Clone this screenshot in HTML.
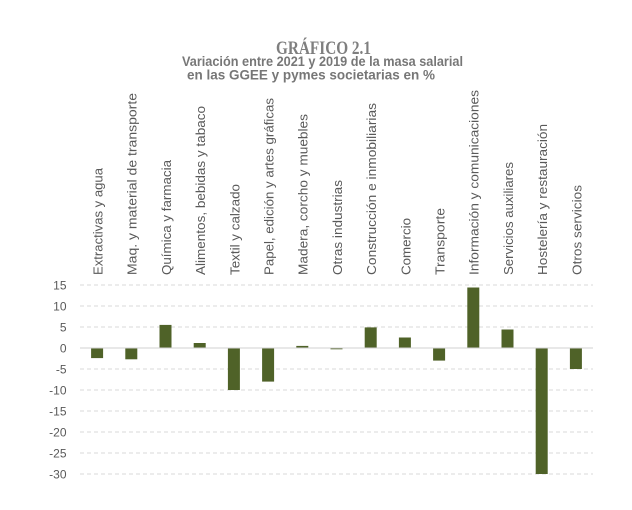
<!DOCTYPE html>
<html>
<head>
<meta charset="utf-8">
<style>
  html, body { margin: 0; padding: 0; background: #ffffff; }
  svg { display: block; }
</style>
</head>
<body>
<svg width="632" height="510" viewBox="0 0 632 510" xmlns="http://www.w3.org/2000/svg">
  <rect x="0" y="0" width="632" height="510" fill="#ffffff"/>

  <!-- Titles -->
  <text x="276" y="54" font-family="Liberation Serif, serif" font-weight="bold" font-size="18.5" fill="#7f7f7f" textLength="95" lengthAdjust="spacingAndGlyphs">GRÁFICO 2.1</text>
  <text x="182" y="66" font-family="Liberation Sans, sans-serif" font-weight="bold" font-size="13.5" fill="#777777" textLength="281" lengthAdjust="spacingAndGlyphs">Variación entre 2021 y 2019 de la masa salarial</text>
  <text x="187" y="79.3" font-family="Liberation Sans, sans-serif" font-weight="bold" font-size="13.5" fill="#777777" textLength="248" lengthAdjust="spacingAndGlyphs">en las GGEE  y pymes societarias en %</text>

  <!-- Gridlines -->
  <g stroke="#d9d9d9" stroke-width="1" stroke-dasharray="4 3">
    <line x1="80" y1="285" x2="593" y2="285"/>
    <line x1="80" y1="306" x2="593" y2="306"/>
    <line x1="80" y1="327" x2="593" y2="327"/>
    <line x1="80" y1="369" x2="593" y2="369"/>
    <line x1="80" y1="390" x2="593" y2="390"/>
    <line x1="80" y1="411" x2="593" y2="411"/>
    <line x1="80" y1="432" x2="593" y2="432"/>
    <line x1="80" y1="453" x2="593" y2="453"/>
    <line x1="80" y1="474" x2="593" y2="474"/>
  </g>

  <!-- Y tick labels -->
  <g font-family="Liberation Sans, sans-serif" font-size="12" fill="#595959" text-anchor="end">
    <text x="66.5" y="289.5">15</text>
    <text x="66.5" y="310.5">10</text>
    <text x="66.5" y="331.5">5</text>
    <text x="66.5" y="352.5">0</text>
    <text x="66.5" y="373.5">-5</text>
    <text x="66.5" y="394.5">-10</text>
    <text x="66.5" y="415.5">-15</text>
    <text x="66.5" y="436.5">-20</text>
    <text x="66.5" y="457.5">-25</text>
    <text x="66.5" y="478.5">-30</text>
  </g>

  <!-- Bars -->
  <g fill="#4f6228">
    <rect x="91.1" y="348" width="12" height="10.1"/>
    <rect x="125.3" y="348" width="12" height="11.3"/>
    <rect x="159.5" y="324.9" width="12" height="23.1"/>
    <rect x="193.7" y="343" width="12" height="5"/>
    <rect x="227.9" y="348" width="12" height="42"/>
    <rect x="262.1" y="348" width="12" height="33.6"/>
    <rect x="296.3" y="345.9" width="12" height="2.1"/>
    <rect x="330.5" y="348" width="12" height="1.3"/>
    <rect x="364.7" y="327.4" width="12" height="20.6"/>
    <rect x="398.9" y="337.5" width="12" height="10.5"/>
    <rect x="433.1" y="348" width="12" height="12.6"/>
    <rect x="467.3" y="287.5" width="12" height="60.5"/>
    <rect x="501.5" y="329.5" width="12" height="18.5"/>
    <rect x="535.7" y="348" width="12" height="126"/>
    <rect x="569.9" y="348" width="12" height="21"/>
  </g>

  <!-- Zero line -->
  <line x1="80" y1="348" x2="593" y2="348" stroke="#d0d0d0" stroke-width="1"/>

  <!-- Category labels (rotated) -->
  <g font-family="Liberation Sans, sans-serif" font-size="12.5" fill="#595959">
    <text transform="translate(102.5,275) rotate(-90)" textLength="107" lengthAdjust="spacingAndGlyphs">Extractivas y agua</text>
    <text transform="translate(136.7,275) rotate(-90)" textLength="182" lengthAdjust="spacingAndGlyphs">Maq. y material de transporte</text>
    <text transform="translate(170.9,275) rotate(-90)" textLength="115" lengthAdjust="spacingAndGlyphs">Química y farmacia</text>
    <text transform="translate(205.1,275) rotate(-90)" textLength="169" lengthAdjust="spacingAndGlyphs">Alimentos, bebidas y tabaco</text>
    <text transform="translate(239.3,275) rotate(-90)" textLength="91" lengthAdjust="spacingAndGlyphs">Textil y calzado</text>
    <text transform="translate(273.5,275) rotate(-90)" textLength="177" lengthAdjust="spacingAndGlyphs">Papel, edición y artes gráficas</text>
    <text transform="translate(307.7,275) rotate(-90)" textLength="161" lengthAdjust="spacingAndGlyphs">Madera, corcho y muebles</text>
    <text transform="translate(341.9,275) rotate(-90)" textLength="95" lengthAdjust="spacingAndGlyphs">Otras industrias</text>
    <text transform="translate(376.1,275) rotate(-90)" textLength="172" lengthAdjust="spacingAndGlyphs">Construcción e inmobiliarias</text>
    <text transform="translate(410.3,275) rotate(-90)" textLength="57" lengthAdjust="spacingAndGlyphs">Comercio</text>
    <text transform="translate(444.5,275) rotate(-90)" textLength="67" lengthAdjust="spacingAndGlyphs">Transporte</text>
    <text transform="translate(478.7,275) rotate(-90)" textLength="185" lengthAdjust="spacingAndGlyphs">Información y comunicaciones</text>
    <text transform="translate(512.9,275) rotate(-90)" textLength="113" lengthAdjust="spacingAndGlyphs">Servicios auxiliares</text>
    <text transform="translate(547.1,275) rotate(-90)" textLength="151" lengthAdjust="spacingAndGlyphs">Hostelería y restauración</text>
    <text transform="translate(581.3,275) rotate(-90)" textLength="90" lengthAdjust="spacingAndGlyphs">Otros servicios</text>
  </g>
</svg>
</body>
</html>
